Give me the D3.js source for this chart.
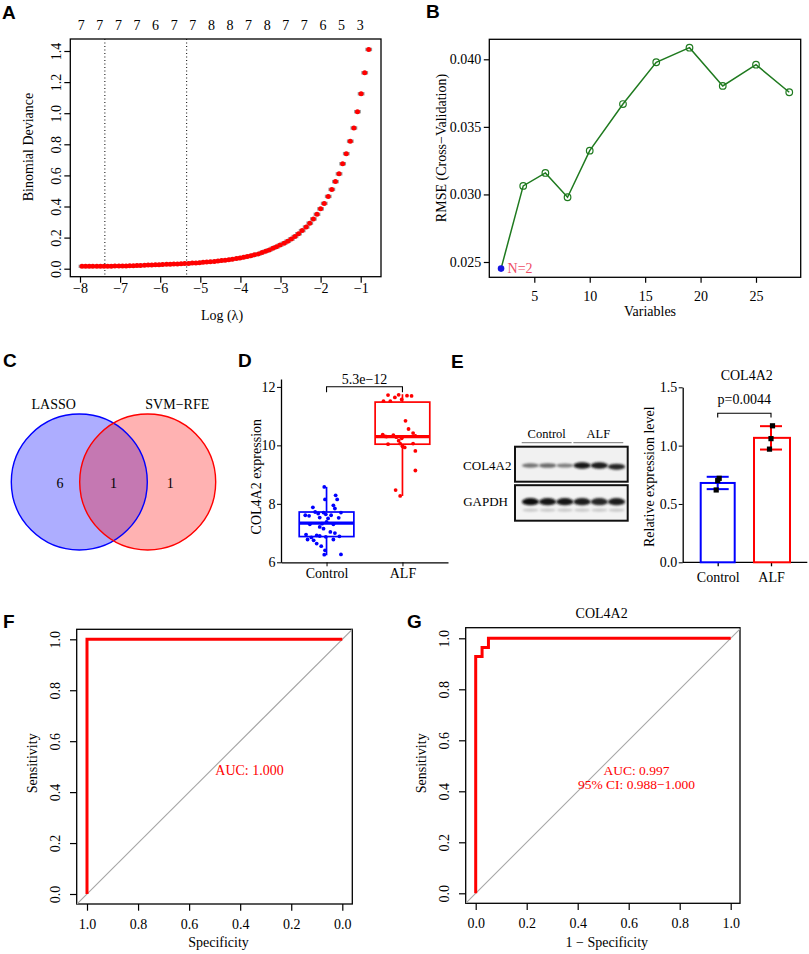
<!DOCTYPE html>
<html>
<head>
<meta charset="utf-8">
<script src="https://cdn.jsdelivr.net/npm/d3@7"></script>
<style>
  body { margin: 0; background: #fff; }
  svg text { font-family: "Liberation Serif", "Times New Roman", serif; font-size: 14px; fill: #000; }
  svg text.panel { font-family: "Liberation Sans", Arial, sans-serif; font-weight: bold; font-size: 19px; }
</style>
</head>
<body>
<svg id="fig" width="809" height="954"></svg>
<script>
// ---------------------------------------------------------------- data
// A: LASSO cross-validation
var lassoLogLambda = [
  -7.95, -7.86, -7.77, -7.68, -7.58, -7.49, -7.40, -7.31, -7.22, -7.13,
  -7.03, -6.94, -6.85, -6.76, -6.67, -6.58, -6.49, -6.39, -6.30, -6.21,
  -6.12, -6.03, -5.94, -5.84, -5.75, -5.66, -5.57, -5.48, -5.39, -5.29,
  -5.20, -5.11, -5.02, -4.93, -4.84, -4.75, -4.65, -4.56, -4.47, -4.38,
  -4.29, -4.20, -4.10, -4.01, -3.92, -3.83, -3.74, -3.65, -3.55, -3.46,
  -3.37, -3.28, -3.19, -3.10, -3.01, -2.91, -2.82, -2.73, -2.64, -2.55,
  -2.46, -2.36, -2.27, -2.18, -2.09, -2.00, -1.91, -1.81, -1.72, -1.63,
  -1.54, -1.45, -1.36, -1.26, -1.17, -1.08, -0.99, -0.90, -0.80];
var lassoDeviance = [
  0.015, 0.015, 0.015, 0.015, 0.015, 0.015, 0.016, 0.016, 0.016, 0.017,
  0.017, 0.018, 0.018, 0.019, 0.019, 0.020, 0.021, 0.022, 0.023, 0.024,
  0.025, 0.026, 0.027, 0.028, 0.029, 0.030, 0.031, 0.032, 0.033, 0.034,
  0.036, 0.037, 0.039, 0.041, 0.043, 0.045, 0.047, 0.049, 0.052, 0.055,
  0.058, 0.061, 0.065, 0.069, 0.073, 0.078, 0.083, 0.089, 0.095, 0.104,
  0.112, 0.121, 0.131, 0.141, 0.152, 0.164, 0.177, 0.191, 0.207, 0.225,
  0.245, 0.268, 0.293, 0.320, 0.350, 0.385, 0.420, 0.465, 0.510, 0.560,
  0.610, 0.675, 0.740, 0.820, 0.905, 1.010, 1.125, 1.260, 1.410];
var lassoTopAt = [-7.97, -7.51, -7.04, -6.58, -6.12, -5.65, -5.19, -4.72, -4.26, -3.80, -3.33, -2.87, -2.41, -1.94, -1.48, -1.01];
var lassoTopCount = [7, 7, 7, 7, 6, 7, 7, 8, 8, 7, 8, 7, 7, 6, 5, 3];
var lassoCutoffs = [-7.38, -5.34];
var lassoXTicks = [-8, -7, -6, -5, -4, -3, -2, -1];
var lassoYTicks = [0, 0.2, 0.4, 0.6, 0.8, 1.0, 1.2, 1.4];

// B: SVM-RFE
var rfeVariables = [2, 4, 6, 8, 10, 13, 16, 19, 22, 25, 28];
var rfeRmse = [0.02451, 0.03063, 0.03159, 0.02979, 0.03324, 0.03669, 0.03978, 0.04086, 0.03803, 0.03960, 0.03756];
var rfeXTicks = [5, 10, 15, 20, 25];
var rfeYTicks = [0.025, 0.030, 0.035, 0.040];

// C: Venn
var vennNames = ["LASSO", "SVM\u2212RFE"];
var vennCounts = [6, 1, 1]; // LASSO only, both, SVM-RFE only

// D: expression boxplot
var exprGroups = ["Control", "ALF"];
var controlExpr = [8.58, 8.29, 8.15, 8.15, 7.95, 7.88, 7.84, 7.72, 7.67, 7.70,
  7.64, 7.61, 7.70, 7.61, 7.59, 7.53, 7.52, 7.38, 7.30, 7.30,
  7.15, 7.04, 6.92, 6.95, 6.90, 6.87, 6.78, 6.75, 6.78, 6.89,
  6.64, 6.55, 6.41, 6.26, 6.27, 6.85, 7.00, 7.32, 7.50, 7.21];
var controlJitter = [-0.03, 0.12, -0.02, 0.14, 0.09, -0.18, 0.11, -0.15, -0.11, -0.04,
  -0.01, 0.06, 0.19, -0.28, -0.23, -0.09, 0.16, 0.00, 0.09, -0.22,
  -0.04, 0.05, -0.13, -0.27, -0.09, -0.01, -0.25, -0.17, 0.09, 0.17,
  -0.13, -0.07, -0.02, -0.03, 0.19, -0.20, 0.11, -0.06, 0.02, -0.09];
var alfExpr = [11.72, 11.73, 11.69, 11.64, 11.57, 11.51, 11.51, 10.84, 10.56, 10.42,
  10.32, 10.35, 10.37, 10.24, 10.16, 10.06, 10.04, 10.06, 9.97, 9.93,
  9.81, 9.14, 8.47, 8.27, 10.30, 10.28, 11.70, 10.31];
var alfJitter = [-0.19, -0.05, 0.12, -0.10, -0.01, -0.25, -0.16, 0.04, 0.08, 0.14,
  0.17, -0.12, -0.26, -0.01, -0.05, -0.03, -0.19, 0.14, 0.00, 0.03,
  0.17, 0.17, -0.09, -0.03, -0.21, -0.08, 0.06, -0.23];
var exprLow = [6.24, 8.27];
var exprQ1 = [6.88, 10.04];
var exprMedian = [7.34, 10.30];
var exprQ3 = [7.72, 11.48];
var exprHigh = [8.58, 11.75];
var exprYTicks = [6, 8, 10, 12];
var exprP = "5.3e\u221212";

// E: western blot + quantification
var blotLanes = ["Control", "Control", "Control", "ALF", "ALF", "ALF"];
var blotCol4a2 = [0.45, 0.50, 0.40, 0.95, 0.90, 0.85];
var blotGapdh = [1.00, 0.95, 0.95, 0.90, 0.85, 0.90];
var wbControl = [0.72, 0.70, 0.62];
var wbAlf = [1.17, 1.06, 0.97];
var wbYTicks = [0, 0.5, 1.0, 1.5];
var wbP = "p=0.0044";

// F, G: ROC curves
var rocFSpec = [1, 1, 0];
var rocFSens = [0, 1, 1];
var rocFAuc = ["AUC: 1.000"];
var rocGFpr = [0, 0, 0.025, 0.025, 0.05, 0.05, 1];
var rocGTpr = [0, 0.929, 0.929, 0.964, 0.964, 1, 1];
var rocGAuc = ["AUC: 0.997", "95% CI: 0.988\u22121.000"];
var rocTicks = [0, 0.2, 0.4, 0.6, 0.8, 1.0];

// ---------------------------------------------------------------- helpers
var svg = d3.select("#fig");
var f1 = d3.format(".1f");

function panelLetter(txt, x, y) {
  svg.append("text").attr("class", "panel").attr("x", x).attr("y", y).text(txt);
}

// drop d3's default axis font so the serif css wins
function plainAxis(sel) {
  sel.attr("font-family", null).attr("font-size", null);
  return sel;
}

// R base-graphics style box with outward ticks
function rFrame(g, box, x, y, opt) {
  g.append("rect").attr("x", box.l).attr("y", box.t).attr("width", box.r - box.l).attr("height", box.b - box.t)
    .attr("fill", "none").attr("stroke", "#000").attr("stroke-width", 1.3);
  var ax = g.append("g").attr("transform", "translate(0," + box.b + ")")
    .call(d3.axisBottom(x).tickValues(opt.xTicks).tickFormat(opt.xFmt).tickSize(opt.tick).tickSizeOuter(0));
  plainAxis(ax).select(".domain").remove();
  ax.selectAll(".tick line").attr("stroke-width", 1.2);
  ax.selectAll(".tick text").attr("y", opt.xLab).attr("dy", 0);
  var ay = g.append("g").attr("transform", "translate(" + box.l + ",0)")
    .call(d3.axisLeft(y).tickValues(opt.yTicks).tickFormat(opt.yFmt).tickSize(opt.tick).tickSizeOuter(0));
  plainAxis(ay).select(".domain").remove();
  ay.selectAll(".tick line").attr("stroke-width", 1.2);
  if (opt.yRot) {
    ay.selectAll(".tick text").attr("transform", "rotate(-90)").attr("x", 0).attr("y", opt.yLab).attr("dy", 0).attr("text-anchor", "middle");
  } else {
    ay.selectAll(".tick text").attr("x", opt.yLab);
  }
}

function rotText(g, txt, x, y) {
  g.append("text").attr("transform", "translate(" + x + "," + y + ") rotate(-90)").attr("text-anchor", "middle").text(txt);
}

// ---------------------------------------------------------------- A
var gA = svg.append("g");
var boxA = { l: 70.3, r: 381, t: 39, b: 276.7 };
var xA = d3.scaleLinear().domain([-8, -1]).range([80, 360.7]);
var yA = d3.scaleLinear().domain([0, 1.4]).range([268.7, 51]);
rFrame(gA, boxA, xA, yA, { xTicks: lassoXTicks, yTicks: lassoYTicks, xFmt: d3.format("d"), yFmt: f1, tick: 6, xLab: 16, yLab: -9.5, yRot: true });
gA.selectAll(".cut").data(lassoCutoffs).join("line").attr("class", "cut")
  .attr("x1", d => xA(d)).attr("x2", d => xA(d)).attr("y1", boxA.t).attr("y2", boxA.b)
  .attr("stroke", "#000").attr("stroke-width", 1).attr("stroke-dasharray", "1,2.5");
var lassoPts = lassoLogLambda.map((d, i) => [d, lassoDeviance[i]]);
gA.selectAll(".cap").data(lassoPts).join("line").attr("class", "cap")
  .attr("x1", d => xA(d[0]) - 3.4).attr("x2", d => xA(d[0]) + 3.4).attr("y1", d => yA(d[1])).attr("y2", d => yA(d[1]))
  .attr("stroke", "#9a9a9a").attr("stroke-width", 3.4);
gA.selectAll(".pt").data(lassoPts).join("circle").attr("class", "pt")
  .attr("cx", d => xA(d[0])).attr("cy", d => yA(d[1])).attr("r", 2.5).attr("fill", "#ff0000");
gA.selectAll(".top").data(lassoTopAt).join("text").attr("class", "top")
  .attr("x", d => xA(d)).attr("y", 30).attr("text-anchor", "middle").text((d, i) => lassoTopCount[i]);
gA.append("text").attr("x", 222).attr("y", 320).attr("text-anchor", "middle").text("Log (\u03bb)");
rotText(gA, "Binomial Deviance", 33.3, 147);
panelLetter("A", 2, 18.5);

// ---------------------------------------------------------------- B
var gB = svg.append("g");
var boxB = { l: 489.3, r: 800.7, t: 39.3, b: 277.3 };
var xB = d3.scaleLinear().domain([5, 25]).range([534.3, 756]);
var yB = d3.scaleLinear().domain([0.025, 0.040]).range([262, 59.3]);
rFrame(gB, boxB, xB, yB, { xTicks: rfeXTicks, yTicks: rfeYTicks, xFmt: d3.format("d"), yFmt: d3.format(".3f"), tick: 5.5, xLab: 23.5, yLab: -8, yRot: false });
var rfePts = rfeVariables.map((d, i) => [d, rfeRmse[i]]);
gB.append("path").datum(rfePts).attr("d", d3.line().x(d => xB(d[0])).y(d => yB(d[1])))
  .attr("fill", "none").attr("stroke", "#1f7a1f").attr("stroke-width", 1.5);
gB.selectAll(".pt").data(rfePts.slice(1)).join("circle").attr("class", "pt")
  .attr("cx", d => xB(d[0])).attr("cy", d => yB(d[1])).attr("r", 3.3)
  .attr("fill", "none").attr("stroke", "#1f7a1f").attr("stroke-width", 1.2);
var bestIdx = d3.minIndex(rfeRmse);
gB.append("circle").attr("cx", xB(rfeVariables[bestIdx])).attr("cy", yB(rfeRmse[bestIdx])).attr("r", 3.3).attr("fill", "#1515e0");
gB.append("text").attr("x", xB(rfeVariables[bestIdx]) + 6.5).attr("y", yB(rfeRmse[bestIdx]) + 4.6)
  .style("fill", "#ee4d66").text("N=" + rfeVariables[bestIdx]);
gB.append("text").attr("x", 650).attr("y", 316).attr("text-anchor", "middle").text("Variables");
rotText(gB, "RMSE (Cross\u2212Validation)", 445.5, 148);
panelLetter("B", 426, 18);

// ---------------------------------------------------------------- C
var gC = svg.append("g");
var venn = [{ cx: 79.3, color: "#0000ff", op: 0.32 }, { cx: 147.7, color: "#ff0000", op: 0.3 }];
var vennR = 68, vennCy = 482;
gC.selectAll(".vfill").data(venn).join("circle").attr("class", "vfill")
  .attr("cx", d => d.cx).attr("cy", vennCy).attr("r", vennR)
  .attr("fill", d => d.color).attr("fill-opacity", d => d.op);
gC.selectAll(".vline").data(venn).join("circle").attr("class", "vline")
  .attr("cx", d => d.cx).attr("cy", vennCy).attr("r", vennR)
  .attr("fill", "none").attr("stroke", d => d.color).attr("stroke-width", 1.4);
gC.selectAll(".vname").data(vennNames).join("text").attr("class", "vname")
  .attr("x", (d, i) => i == 0 ? 53.7 : 177.3).attr("y", 409).attr("text-anchor", "middle").text(d => d);
gC.selectAll(".vnum").data(vennCounts).join("text").attr("class", "vnum")
  .attr("x", (d, i) => [venn[0].cx - 19.3, (venn[0].cx + venn[1].cx) / 2, venn[1].cx + 22.5][i])
  .attr("y", 487.5).attr("text-anchor", "middle").text(d => d);
panelLetter("C", 3, 367);

// ---------------------------------------------------------------- D
var gD = svg.append("g");
var xD = d3.scalePoint().domain(exprGroups).range([281, 448]).padding(0.6);
var yD = d3.scaleLinear().domain([6, 12.27]).range([562.3, 379]);
var colD = ["#0000ff", "#ff0000"];
var axD = gD.append("g").attr("transform", "translate(0,562.3)")
  .call(d3.axisBottom(xD).tickSize(4).tickSizeOuter(0));
plainAxis(axD).select(".domain").attr("stroke-width", 1.3);
axD.selectAll(".tick text").attr("y", 16).attr("dy", 0);
var ayD = gD.append("g").attr("transform", "translate(281,0)")
  .call(d3.axisLeft(yD).tickValues(exprYTicks).tickFormat(d3.format("d")).tickSize(4).tickSizeOuter(0));
plainAxis(ayD).select(".domain").attr("stroke-width", 1.3);
ayD.selectAll(".tick text").attr("x", -5.5);
var stepD = xD.step();
var boxW = stepD * 0.72;
exprGroups.forEach(function (grp, i) {
  var cx = xD(grp);
  var g = gD.append("g").attr("stroke", colD[i]).attr("fill", "none");
  g.append("line").attr("x1", cx).attr("x2", cx).attr("y1", yD(exprHigh[i])).attr("y2", yD(exprQ3[i])).attr("stroke-width", 1.7);
  g.append("line").attr("x1", cx).attr("x2", cx).attr("y1", yD(exprQ1[i])).attr("y2", yD(exprLow[i])).attr("stroke-width", 1.7);
  g.append("rect").attr("x", cx - boxW / 2).attr("width", boxW).attr("y", yD(exprQ3[i])).attr("height", yD(exprQ1[i]) - yD(exprQ3[i]))
    .attr("fill", "#fff").attr("stroke-width", 1.7);
  g.append("line").attr("x1", cx - boxW / 2).attr("x2", cx + boxW / 2).attr("y1", yD(exprMedian[i])).attr("y2", yD(exprMedian[i])).attr("stroke-width", 3.4);
});
var exprPts = controlExpr.map((v, i) => ({ g: 0, v: v, j: controlJitter[i] }))
  .concat(alfExpr.map((v, i) => ({ g: 1, v: v, j: alfJitter[i] })));
gD.selectAll(".pt").data(exprPts).join("circle").attr("class", "pt")
  .attr("cx", d => xD(exprGroups[d.g]) + d.j * stepD).attr("cy", d => yD(d.v)).attr("r", 1.9).attr("fill", d => colD[d.g]);
var brY = 386.7;
gD.append("path").attr("d", "M" + xD("Control") + "," + (brY + 5.6) + "V" + brY + "H" + xD("ALF") + "V" + (brY + 5.6))
  .attr("fill", "none").attr("stroke", "#000").attr("stroke-width", 1.1);
gD.append("text").attr("x", (xD("Control") + xD("ALF")) / 2).attr("y", 384).attr("text-anchor", "middle").text(exprP);
rotText(gD, "COL4A2 expression", 260.7, 476.7);
panelLetter("D", 238, 367);

// ---------------------------------------------------------------- E (blot)
var gE = svg.append("g");
var defs = svg.append("defs");
defs.append("filter").attr("id", "blur").attr("x", "-30%").attr("y", "-100%").attr("width", "160%").attr("height", "300%")
  .append("feGaussianBlur").attr("stdDeviation", 1.1);
var lane = d3.scaleBand().domain(d3.range(blotLanes.length)).range([521, 626]).padding(0.1);
var blotRows = [{ name: "COL4A2", t: 446.7, b: 481.7, cy: 465.5, vals: blotCol4a2 }, { name: "GAPDH", t: 485.2, b: 520.7, cy: 501.7, vals: blotGapdh }];
blotRows.forEach(function (row, r) {
  gE.append("rect").attr("x", 515).attr("y", row.t).attr("width", 112.7).attr("height", row.b - row.t).attr("fill", r == 0 ? "#f1f1f1" : "#f3f3f3");
  if (r == 1) {
    gE.selectAll(".faint").data(row.vals).join("ellipse").attr("class", "faint")
      .attr("cx", (d, i) => lane(i) + lane.bandwidth() / 2).attr("cy", row.cy + 8.5).attr("rx", 8).attr("ry", 1.6)
      .attr("fill", "#c8c8c8").attr("filter", "url(#blur)");
  }
  gE.selectAll(".band" + r).data(row.vals).join("ellipse").attr("class", "band" + r)
    .attr("cx", (d, i) => lane(i) + lane.bandwidth() / 2).attr("cy", (d, i) => row.cy + (r == 0 && i == 5 ? 1.2 : 0))
    .attr("rx", 8.6).attr("ry", d => r == 0 ? 1.2 + 2.2 * d : 3.6)
    .attr("fill", d => d3.interpolateRgb("#c4c4c4", "#0d0d0d")(d)).attr("filter", "url(#blur)");
  gE.append("rect").attr("x", 515).attr("y", row.t).attr("width", 112.7).attr("height", row.b - row.t)
    .attr("fill", "none").attr("stroke", "#111").attr("stroke-width", 2);
  gE.append("text").attr("x", r == 0 ? 511.5 : 508).attr("y", row.cy + 4.6).attr("text-anchor", "end").style("font-size", "13px").text(row.name);
});
["Control", "ALF"].forEach(function (grp) {
  var idx = blotLanes.map((d, i) => d == grp ? i : -1).filter(i => i >= 0);
  var x0 = lane(idx[0]) - 1, x1 = lane(idx[idx.length - 1]) + lane.bandwidth() - 1;
  gE.append("line").attr("x1", x0).attr("x2", x1).attr("y1", 442.7).attr("y2", 442.7).attr("stroke", "#777").attr("stroke-width", 1);
  gE.append("text").attr("x", (x0 + x1) / 2).attr("y", 438).attr("text-anchor", "middle").style("font-size", "12.5px").text(grp);
});
panelLetter("E", 451, 368);

// ---------------------------------------------------------------- E (bar chart)
var gE2 = svg.append("g");
var xE = d3.scalePoint().domain(exprGroups).range([717.7, 771]);
var yE = d3.scaleLinear().domain([0, 1.5]).range([562.3, 387.3]);
var wbSets = [wbControl, wbAlf];
var ayE = gE2.append("g").attr("transform", "translate(682.7,0)")
  .call(d3.axisLeft(yE).tickValues(wbYTicks).tickFormat(f1).tickSize(4).tickSizeOuter(0));
plainAxis(ayE).select(".domain").attr("stroke-width", 1.3);
ayE.selectAll(".tick text").attr("x", -5.5);
gE2.append("line").attr("x1", 682.7).attr("x2", 807.3).attr("y1", 562.3).attr("y2", 562.3).attr("stroke", "#000").attr("stroke-width", 1.3);
var axE = gE2.append("g").attr("transform", "translate(0,562.3)")
  .call(d3.axisBottom(xE).tickSize(4).tickSizeOuter(0));
plainAxis(axE).select(".domain").remove();
axE.selectAll(".tick line").attr("stroke-width", 1.3);
axE.selectAll(".tick text").attr("y", 19.5).attr("dy", 0);
exprGroups.forEach(function (grp, i) {
  var cx = xE(grp), m = d3.mean(wbSets[i]), sd = d3.deviation(wbSets[i]);
  var g = gE2.append("g").attr("stroke", colD[i]).attr("fill", "none").attr("stroke-width", 2);
  g.append("rect").attr("x", cx - 17).attr("width", 34 + i * 2).attr("y", yE(m)).attr("height", yE(0) - yE(m)).attr("fill", "#fff");
  g.append("line").attr("x1", cx).attr("x2", cx).attr("y1", yE(m + sd)).attr("y2", yE(m - sd));
  g.append("line").attr("x1", cx - 11).attr("x2", cx + 11).attr("y1", yE(m + sd)).attr("y2", yE(m + sd));
  g.append("line").attr("x1", cx - 11).attr("x2", cx + 11).attr("y1", yE(m - sd)).attr("y2", yE(m - sd));
  gE2.selectAll(".sq" + i).data(wbSets[i]).join("rect").attr("class", "sq" + i)
    .attr("x", (d, k) => cx - 2.6 + (1 - k) * 1.5).attr("y", d => yE(d) - 2.6).attr("width", 5.2).attr("height", 5.2).attr("fill", "#000");
});
gE2.append("path").attr("d", "M" + xE("Control") + ",417.5V413.3H" + xE("ALF") + "V417.5")
  .attr("fill", "none").attr("stroke", "#000").attr("stroke-width", 1.1);
gE2.append("text").attr("x", 744.3).attr("y", 404).attr("text-anchor", "middle").text(wbP);
gE2.append("text").attr("x", 746.7).attr("y", 380).attr("text-anchor", "middle").text("COL4A2");
rotText(gE2, "Relative expression level", 654, 476.7);

// ---------------------------------------------------------------- F, G (ROC)
function rocPanel(id, box, x, y, px, py, xTitle, labels, labX, title) {
  var g = svg.append("g");
  rFrame(g, box, x, y, { xTicks: rocTicks, yTicks: rocTicks, xFmt: f1, yFmt: f1, tick: 6.7, xLab: 24.5, yLab: -17, yRot: true });
  svg.select("defs").append("clipPath").attr("id", "clip" + id).append("rect")
    .attr("x", box.l).attr("y", box.t).attr("width", box.r - box.l).attr("height", box.b - box.t);
  var diag = id == "F" ? [[1.2, -0.2], [-0.2, 1.2]] : [[-0.2, -0.2], [1.2, 1.2]];
  g.append("line").attr("clip-path", "url(#clip" + id + ")")
    .attr("x1", x(diag[0][0])).attr("y1", y(diag[0][1])).attr("x2", x(diag[1][0])).attr("y2", y(diag[1][1]))
    .attr("stroke", "#a6a6a6").attr("stroke-width", 1.1);
  var pts = px.map((d, i) => [d, py[i]]);
  g.append("path").datum(pts).attr("d", d3.line().x(d => x(d[0])).y(d => y(d[1])))
    .attr("fill", "none").attr("stroke", "#ff0000").attr("stroke-width", 3);
  g.selectAll(".auc").data(labels).join("text").attr("class", "auc")
    .attr("x", labX).attr("y", (d, i) => 775.2 + i * 13.6).attr("text-anchor", "middle")
    .style("fill", "#ff0000").style("font-size", labels.length > 1 ? "13.5px" : "14px").text(d => d);
  g.append("text").attr("x", (box.l + box.r) / 2 + 4).attr("y", 947).attr("text-anchor", "middle").text(xTitle);
  rotText(g, "Sensitivity", box.l - 39.5, 763.3);
  if (title) g.append("text").attr("x", (box.l + box.r) / 2 - 1.2).attr("y", 618.3).attr("text-anchor", "middle").text(title);
}
var boxF = { l: 76.7, r: 352.3, t: 629.3, b: 904 };
var xF = d3.scaleLinear().domain([1, 0]).range([87, 342.3]);
var yF = d3.scaleLinear().domain([0, 1]).range([894, 639.3]);
rocPanel("F", boxF, xF, yF, rocFSpec, rocFSens, "Specificity", rocFAuc, 249.5, null);
panelLetter("F", 3, 628);

var boxG = { l: 465.7, r: 740, t: 627.7, b: 903.3 };
var xG = d3.scaleLinear().domain([0, 1]).range([475.7, 730.7]);
var yG = d3.scaleLinear().domain([0, 1]).range([893.3, 638.3]);
rocPanel("G", boxG, xG, yG, rocGFpr, rocGTpr, "1 \u2212 Specificity", rocGAuc, 636.5, "COL4A2");
panelLetter("G", 407, 628);
</script>
</body>
</html>
